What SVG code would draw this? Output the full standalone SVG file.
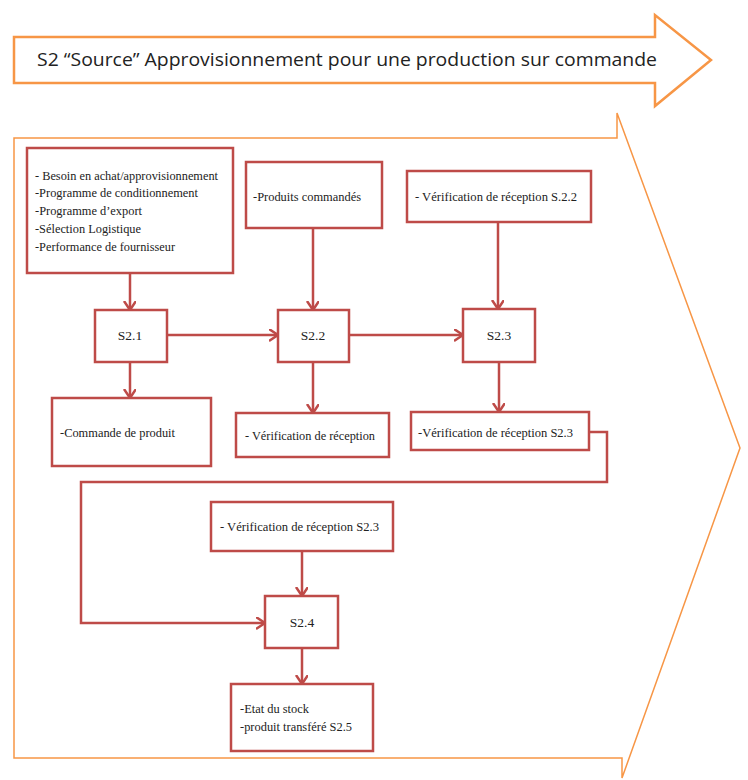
<svg xmlns="http://www.w3.org/2000/svg" width="748" height="780" viewBox="0 0 748 780">
<style>
.box{fill:#fff;stroke:#BE4B48;stroke-width:2.5}
.conn{fill:none;stroke:#BE4B48;stroke-width:2.5}
.t{font-size:13.5px;fill:#222}
.orange{fill:#fff;stroke:#F79646}
</style>
<defs>
<marker id="ah" markerUnits="userSpaceOnUse" markerWidth="12" markerHeight="14" refX="9" refY="6" orient="auto">
<path d="M0,0 L9,6 L0,12" fill="none" stroke="#BE4B48" stroke-width="2.5"/>
</marker>
</defs>
<rect width="748" height="780" fill="#fff"/>
<g id="title">
<path class="orange" stroke-width="2.5" d="M14,37 L655,37 L655,15 L711,60 L655,106 L655,83 L14,83 Z"/>
<text x="37" y="66" font-family="Open Sans, Liberation Sans, Arial, sans-serif" font-size="18.5" fill="#222" textLength="620" lengthAdjust="spacingAndGlyphs">S2 “Source” Approvisionnement pour une production sur commande</text>
</g>
<g id="chevron">
<path class="orange" stroke-width="1.5" d="M14,138 L617,138 L617,113 L740,448 L622,778 L622,758 L14,758 Z"/>
</g>
<g id="connectors">
<path class="conn" marker-end="url(#ah)" d="M130,273 L130,310"/>
<path class="conn" marker-end="url(#ah)" d="M130,362 L130,398"/>
<path class="conn" marker-end="url(#ah)" d="M167,335 L278,335"/>
<path class="conn" marker-end="url(#ah)" d="M313,228 L313,310"/>
<path class="conn" marker-end="url(#ah)" d="M313,362 L313,413"/>
<path class="conn" marker-end="url(#ah)" d="M349,335 L463,335"/>
<path class="conn" marker-end="url(#ah)" d="M498,222 L498,309"/>
<path class="conn" marker-end="url(#ah)" d="M499,362 L499,412"/>
<path class="conn" marker-end="url(#ah)" d="M589,432 L607,432 L607,482 L81,482 L81,623 L265,623"/>
<path class="conn" marker-end="url(#ah)" d="M302,551 L302,596"/>
<path class="conn" marker-end="url(#ah)" d="M302,648 L302,684"/>
</g>
<g font-family="Liberation Serif, DejaVu Serif, Times New Roman, serif">
<g id="n-inputs">
<rect class="box" x="27" y="148" width="206" height="125"/>
<text class="t" x="35" y="180" textLength="183" lengthAdjust="spacingAndGlyphs">- Besoin en achat/approvisionnement</text>
<text class="t" x="35" y="197" textLength="163" lengthAdjust="spacingAndGlyphs">-Programme de conditionnement</text>
<text class="t" x="35" y="215" textLength="107" lengthAdjust="spacingAndGlyphs">-Programme d’export</text>
<text class="t" x="35" y="233" textLength="106" lengthAdjust="spacingAndGlyphs">-Sélection Logistique</text>
<text class="t" x="35" y="251" textLength="140" lengthAdjust="spacingAndGlyphs">-Performance de fournisseur</text>
</g>
<g id="n-produits">
<rect class="box" x="246" y="162" width="136" height="66"/>
<text class="t" x="253" y="201" textLength="108" lengthAdjust="spacingAndGlyphs">-Produits commandés</text>
</g>
<g id="n-verif22">
<rect class="box" x="407" y="171" width="184" height="51"/>
<text class="t" x="415" y="201" textLength="162" lengthAdjust="spacingAndGlyphs">- Vérification de réception S.2.2</text>
</g>
<g id="n-s21">
<rect class="box" x="95" y="310" width="72" height="52"/>
<text class="t" x="130" y="340" text-anchor="middle">S2.1</text>
</g>
<g id="n-s22">
<rect class="box" x="278" y="310" width="71" height="52"/>
<text class="t" x="313" y="340" text-anchor="middle">S2.2</text>
</g>
<g id="n-s23">
<rect class="box" x="463" y="309" width="72" height="53"/>
<text class="t" x="499" y="340" text-anchor="middle">S2.3</text>
</g>
<g id="n-commande">
<rect class="box" x="52" y="398" width="159" height="68"/>
<text class="t" x="60" y="437" textLength="115" lengthAdjust="spacingAndGlyphs">-Commande de produit</text>
</g>
<g id="n-verif">
<rect class="box" x="236" y="413" width="153" height="44"/>
<text class="t" x="245" y="440" textLength="130" lengthAdjust="spacingAndGlyphs">- Vérification de réception</text>
</g>
<g id="n-verif23">
<rect class="box" x="411" y="412" width="178" height="38"/>
<text class="t" x="418" y="437" textLength="155" lengthAdjust="spacingAndGlyphs">-Vérification de réception S2.3</text>
</g>
<g id="n-verif23b">
<rect class="box" x="211" y="502" width="182" height="49"/>
<text class="t" x="220" y="531" textLength="159" lengthAdjust="spacingAndGlyphs">- Vérification de réception S2.3</text>
</g>
<g id="n-s24">
<rect class="box" x="265" y="596" width="73" height="52"/>
<text class="t" x="302" y="627" text-anchor="middle">S2.4</text>
</g>
<g id="n-etat">
<rect class="box" x="231" y="684" width="142" height="67"/>
<text class="t" x="240" y="713" textLength="69" lengthAdjust="spacingAndGlyphs">-Etat du stock</text>
<text class="t" x="240" y="731" textLength="112" lengthAdjust="spacingAndGlyphs">-produit transféré S2.5</text>
</g>
</g>
</svg>
